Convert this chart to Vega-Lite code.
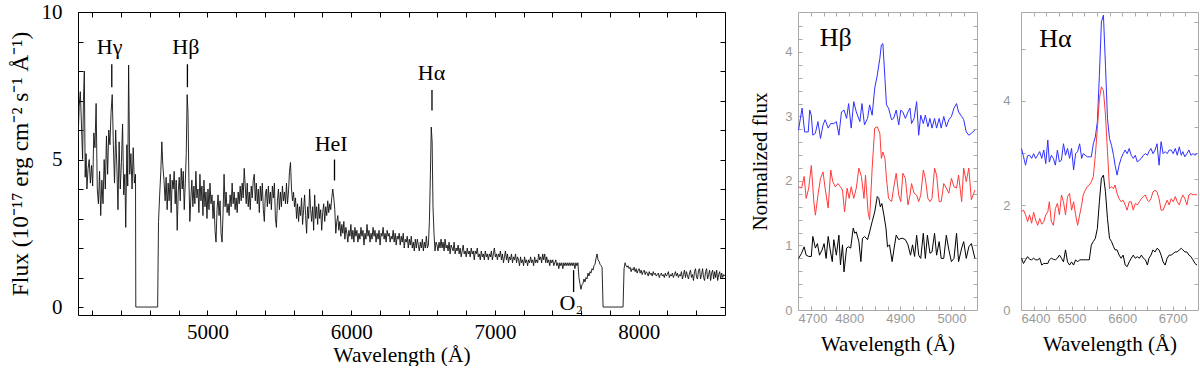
{
"$schema":"https://vega.github.io/schema/vega-lite/v6.json",
"autosize":{"type":"pad"},
"padding":{"left":7,"top":0,"right":4,"bottom":0},
"background":"white",
"config":{"font":"Liberation Serif","axis":{"grid":false,"domain":false,"labelOverlap":false,"labelFont":"Liberation Serif","titleFont":"Liberation Serif","titleFontWeight":"normal"}},
"datasets":{
"spec":[
{"w":4100,"f":5.6},{"w":4108,"f":6.8},{"w":4116,"f":7.3},{"w":4124,"f":6.2},{"w":4132,"f":5.0},{"w":4138,"f":7.0},{"w":4144,"f":8.0},{"w":4150,"f":4.4},{"w":4156,"f":5.2},{"w":4162,"f":4.0},{"w":4170,"f":4.7},{"w":4178,"f":5.0},{"w":4186,"f":4.2},{"w":4194,"f":4.8},{"w":4202,"f":4.1},{"w":4210,"f":5.9},{"w":4218,"f":5.4},{"w":4226,"f":6.9},{"w":4234,"f":4.0},{"w":4242,"f":3.5},{"w":4250,"f":4.6},{"w":4258,"f":3.1},{"w":4266,"f":4.3},{"w":4274,"f":3.5},{"w":4282,"f":5.0},{"w":4290,"f":4.0},{"w":4298,"f":5.8},{"w":4306,"f":4.5},{"w":4314,"f":6.0},{"w":4322,"f":5.5},{"w":4330,"f":6.6},{"w":4338,"f":7.2},{"w":4346,"f":5.5},{"w":4354,"f":4.2},{"w":4362,"f":6.0},{"w":4370,"f":4.8},{"w":4378,"f":3.3},{"w":4386,"f":5.6},{"w":4394,"f":4.0},{"w":4402,"f":4.9},{"w":4410,"f":6.2},{"w":4418,"f":3.8},{"w":4426,"f":4.5},{"w":4432,"f":2.7},{"w":4440,"f":5.5},{"w":4446,"f":4.1},{"w":4452,"f":8.2},{"w":4460,"f":4.5},{"w":4468,"f":5.2},{"w":4476,"f":4.0},{"w":4484,"f":5.4},{"w":4492,"f":4.2},{"w":4500,"f":4.5},{"w":4502,"f":0},{"w":4654,"f":0},
{"w":4660,"f":2.9},{"w":4668,"f":3.8},{"w":4676,"f":4.6},{"w":4683,"f":5.6},{"w":4690,"f":4.8},{"w":4698,"f":4.3},{"w":4706,"f":3.6},{"w":4713,"f":4.4},{"w":4720,"f":3.3},{"w":4727,"f":4.2},{"w":4734,"f":3.6},{"w":4741,"f":4.5},{"w":4748,"f":3.2},{"w":4755,"f":4.3},{"w":4762,"f":4.0},{"w":4769,"f":4.6},{"w":4776,"f":3.5},{"w":4783,"f":4.3},{"w":4790,"f":2.6},{"w":4797,"f":3.9},{"w":4804,"f":4.4},{"w":4811,"f":3.6},{"w":4818,"f":4.7},{"w":4825,"f":4.0},{"w":4832,"f":4.6},{"w":4839,"f":3.3},{"w":4846,"f":4.2},{"w":4853,"f":5.2},{"w":4859,"f":7.2},{"w":4865,"f":6.6},{"w":4871,"f":4.4},{"w":4878,"f":2.9},{"w":4885,"f":3.7},{"w":4892,"f":4.3},{"w":4899,"f":3.4},{"w":4906,"f":4.1},{"w":4913,"f":3.5},{"w":4920,"f":4.6},{"w":4927,"f":3.7},{"w":4934,"f":4.0},{"w":4941,"f":3.2},{"w":4948,"f":4.5},{"w":4955,"f":3.6},{"w":4962,"f":4.1},{"w":4969,"f":3.1},{"w":4976,"f":4.3},{"w":4983,"f":3.4},{"w":4990,"f":3.9},{"w":4997,"f":3.0},{"w":5004,"f":4.0},{"w":5011,"f":3.3},{"w":5018,"f":4.2},{"w":5025,"f":3.5},{"w":5032,"f":3.8},{"w":5039,"f":3.0},{"w":5046,"f":3.6},{"w":5053,"f":2.6},{"w":5060,"f":2.2},{"w":5067,"f":3.3},{"w":5074,"f":3.8},{"w":5081,"f":3.1},{"w":5088,"f":3.6},{"w":5095,"f":2.5},{"w":5102,"f":2.2},{"w":5109,"f":3.2},{"w":5116,"f":4.5},{"w":5123,"f":3.4},{"w":5130,"f":3.9},{"w":5137,"f":3.2},{"w":5144,"f":3.5},{"w":5151,"f":3.1},{"w":5158,"f":3.8},{"w":5165,"f":3.4},{"w":5172,"f":4.2},{"w":5179,"f":3.5},{"w":5186,"f":3.9},{"w":5193,"f":3.3},{"w":5200,"f":3.7},
{"w":5207,"f":3.2},{"w":5214,"f":3.9},{"w":5221,"f":3.5},{"w":5228,"f":4.1},{"w":5235,"f":3.6},{"w":5242,"f":4.2},{"w":5249,"f":3.7},{"w":5256,"f":4.7},{"w":5263,"f":4.1},{"w":5270,"f":3.5},{"w":5277,"f":4.2},{"w":5284,"f":3.4},{"w":5291,"f":3.9},{"w":5298,"f":3.3},{"w":5305,"f":4.1},{"w":5312,"f":3.7},{"w":5319,"f":4.3},{"w":5326,"f":4.5},{"w":5333,"f":3.6},{"w":5340,"f":4.2},{"w":5347,"f":3.5},{"w":5354,"f":4.0},{"w":5361,"f":3.2},{"w":5368,"f":4.1},{"w":5375,"f":3.6},{"w":5382,"f":4.2},{"w":5389,"f":3.3},{"w":5396,"f":2.9},{"w":5403,"f":3.8},{"w":5410,"f":4.0},{"w":5417,"f":3.4},{"w":5424,"f":4.1},{"w":5431,"f":3.5},{"w":5438,"f":3.9},{"w":5445,"f":3.3},{"w":5452,"f":4.1},{"w":5459,"f":3.7},{"w":5466,"f":4.2},{"w":5473,"f":3.0},{"w":5480,"f":2.7},{"w":5487,"f":3.6},{"w":5494,"f":4.0},{"w":5501,"f":3.3},{"w":5508,"f":3.9},{"w":5515,"f":3.4},{"w":5522,"f":4.1},{"w":5529,"f":3.6},{"w":5536,"f":3.9},{"w":5543,"f":3.5},{"w":5550,"f":4.2},{"w":5557,"f":3.5},{"w":5564,"f":3.9},{"w":5571,"f":4.6},{"w":5578,"f":4.9},{"w":5585,"f":4.0},{"w":5592,"f":3.6},{"w":5599,"f":3.9},{"w":5606,"f":3.4},{"w":5613,"f":3.7},{"w":5620,"f":3.0},{"w":5627,"f":3.5},{"w":5634,"f":2.9},{"w":5641,"f":3.4},{"w":5648,"f":3.1},{"w":5655,"f":3.7},{"w":5662,"f":2.8},{"w":5669,"f":3.3},{"w":5676,"f":3.8},{"w":5683,"f":3.1},{"w":5690,"f":2.5},{"w":5697,"f":3.4},{"w":5704,"f":3.0},{"w":5711,"f":4.0},{"w":5718,"f":3.3},{"w":5725,"f":2.9},{"w":5732,"f":3.4},{"w":5739,"f":2.6},{"w":5746,"f":3.8},{"w":5753,"f":3.0},{"w":5760,"f":3.4},{"w":5767,"f":2.8},{"w":5774,"f":3.5},{"w":5781,"f":3.0},{"w":5788,"f":3.3},{"w":5795,"f":2.6},{"w":5802,"f":3.2},{"w":5809,"f":3.5},{"w":5816,"f":2.9},{"w":5823,"f":3.4},{"w":5830,"f":3.1},{"w":5837,"f":3.6},{"w":5844,"f":3.2},{"w":5851,"f":3.5},{"w":5858,"f":3.3},{"w":5865,"f":3.7},{"w":5872,"f":4.0},{"w":5879,"f":3.7},{"w":5886,"f":3.3},{"w":5893,"f":2.5},{"w":5900,"f":2.9},
{"w":5907,"f":3.1},{"w":5914,"f":2.6},{"w":5921,"f":2.9},{"w":5928,"f":2.4},{"w":5935,"f":2.8},{"w":5942,"f":2.5},{"w":5949,"f":2.9},{"w":5956,"f":2.3},{"w":5963,"f":2.7},{"w":5970,"f":2.5},{"w":5977,"f":2.2},{"w":5984,"f":2.6},{"w":5991,"f":2.4},{"w":5998,"f":2.8},{"w":6005,"f":2.3},{"w":6012,"f":2.6},{"w":6019,"f":2.2},{"w":6026,"f":2.7},{"w":6033,"f":2.4},{"w":6040,"f":2.6},{"w":6047,"f":2.2},{"w":6054,"f":2.5},{"w":6061,"f":2.3},{"w":6068,"f":2.7},{"w":6075,"f":2.4},{"w":6082,"f":2.6},{"w":6089,"f":2.1},{"w":6096,"f":2.5},{"w":6103,"f":2.3},{"w":6110,"f":2.8},{"w":6117,"f":2.4},{"w":6124,"f":2.6},{"w":6131,"f":2.2},{"w":6138,"f":2.5},{"w":6145,"f":2.3},{"w":6152,"f":2.7},{"w":6159,"f":2.4},{"w":6166,"f":2.6},{"w":6173,"f":2.2},{"w":6180,"f":2.5},{"w":6187,"f":2.3},{"w":6194,"f":2.6},{"w":6201,"f":2.1},{"w":6208,"f":2.5},{"w":6215,"f":2.4},{"w":6222,"f":2.7},{"w":6229,"f":2.3},{"w":6236,"f":2.5},{"w":6243,"f":2.2},{"w":6250,"f":2.6},{"w":6257,"f":2.4},{"w":6264,"f":2.5},{"w":6271,"f":2.2},{"w":6278,"f":2.4},{"w":6285,"f":2.3},{"w":6292,"f":2.6},{"w":6299,"f":2.2},{"w":6306,"f":2.5},{"w":6313,"f":2.1},{"w":6320,"f":2.4},{"w":6327,"f":2.3},{"w":6334,"f":2.5},{"w":6341,"f":2.1},{"w":6348,"f":2.4},{"w":6355,"f":2.2},{"w":6362,"f":2.5},{"w":6369,"f":2.0},{"w":6376,"f":2.3},{"w":6383,"f":2.2},{"w":6390,"f":2.4},{"w":6397,"f":2.0},{"w":6404,"f":2.3},{"w":6411,"f":2.1},{"w":6418,"f":2.4},{"w":6425,"f":2.0},{"w":6432,"f":2.2},{"w":6439,"f":1.9},{"w":6446,"f":2.3},{"w":6453,"f":2.0},{"w":6460,"f":2.3},{"w":6467,"f":2.1},{"w":6474,"f":1.9},{"w":6481,"f":2.2},{"w":6488,"f":2.0},{"w":6495,"f":2.3},{"w":6502,"f":1.9},{"w":6509,"f":2.2},{"w":6516,"f":2.0},{"w":6523,"f":2.4},{"w":6530,"f":2.0},{"w":6537,"f":2.1},{"w":6544,"f":2.9},{"w":6551,"f":4.5},{"w":6557,"f":6.1},{"w":6563,"f":5.6},{"w":6569,"f":3.4},{"w":6576,"f":2.5},{"w":6583,"f":1.9},{"w":6590,"f":2.2},
{"w":6597,"f":2.1},{"w":6604,"f":1.9},{"w":6611,"f":2.2},{"w":6618,"f":2.0},{"w":6625,"f":2.3},{"w":6632,"f":2.0},{"w":6639,"f":2.2},{"w":6646,"f":1.9},{"w":6653,"f":2.3},{"w":6660,"f":2.0},{"w":6667,"f":2.1},{"w":6674,"f":1.9},{"w":6681,"f":2.2},{"w":6688,"f":1.8},{"w":6695,"f":2.1},{"w":6702,"f":2.0},{"w":6709,"f":1.9},{"w":6716,"f":2.2},{"w":6723,"f":1.8},{"w":6730,"f":2.0},{"w":6737,"f":1.9},{"w":6744,"f":2.1},{"w":6751,"f":1.8},{"w":6758,"f":2.0},{"w":6765,"f":1.7},{"w":6772,"f":1.9},{"w":6779,"f":2.1},{"w":6786,"f":1.8},{"w":6793,"f":1.9},{"w":6800,"f":1.7},{"w":6807,"f":2.0},{"w":6814,"f":1.8},{"w":6821,"f":1.9},{"w":6828,"f":1.7},{"w":6835,"f":2.0},{"w":6842,"f":1.8},{"w":6849,"f":1.9},{"w":6856,"f":1.6},{"w":6863,"f":1.9},{"w":6870,"f":1.8},{"w":6877,"f":2.0},{"w":6884,"f":1.7},{"w":6891,"f":1.8},{"w":6898,"f":1.6},{"w":6905,"f":1.9},{"w":6912,"f":1.7},{"w":6919,"f":1.8},{"w":6926,"f":1.6},{"w":6933,"f":1.9},{"w":6940,"f":1.7},{"w":6947,"f":1.8},{"w":6954,"f":1.6},{"w":6961,"f":1.8},{"w":6968,"f":1.7},{"w":6975,"f":1.9},{"w":6982,"f":1.6},{"w":6989,"f":1.8},{"w":6996,"f":2.0},{"w":7003,"f":1.7},{"w":7010,"f":1.8},{"w":7017,"f":1.6},{"w":7024,"f":1.8},{"w":7031,"f":1.7},{"w":7038,"f":1.9},{"w":7045,"f":1.6},{"w":7052,"f":1.8},{"w":7059,"f":1.5},{"w":7066,"f":1.7},{"w":7073,"f":1.9},{"w":7080,"f":1.6},{"w":7087,"f":1.8},{"w":7094,"f":1.5},{"w":7101,"f":1.7},{"w":7108,"f":1.6},{"w":7115,"f":1.8},{"w":7122,"f":1.5},{"w":7129,"f":1.7},{"w":7136,"f":1.6},{"w":7143,"f":1.8},{"w":7150,"f":1.5},{"w":7157,"f":1.7},{"w":7164,"f":1.6},{"w":7171,"f":1.4},{"w":7178,"f":1.7},{"w":7185,"f":1.5},{"w":7192,"f":1.6},{"w":7199,"f":1.4},{"w":7206,"f":1.7},{"w":7213,"f":1.5},{"w":7220,"f":1.6},{"w":7227,"f":1.4},{"w":7234,"f":1.6},{"w":7241,"f":1.5},{"w":7248,"f":1.7},{"w":7255,"f":1.5},{"w":7262,"f":1.6},{"w":7269,"f":1.4},{"w":7276,"f":1.7},{"w":7283,"f":1.5},{"w":7290,"f":1.6},{"w":7297,"f":1.5},{"w":7304,"f":1.8},{"w":7311,"f":1.6},{"w":7318,"f":1.7},{"w":7325,"f":1.5},{"w":7332,"f":1.8},{"w":7339,"f":1.6},{"w":7346,"f":1.8},{"w":7353,"f":1.5},{"w":7360,"f":1.7},{"w":7367,"f":1.5},{"w":7374,"f":1.6},{"w":7381,"f":1.4},{"w":7388,"f":1.6},{"w":7395,"f":1.5},{"w":7402,"f":1.6},{"w":7409,"f":1.4},{"w":7416,"f":1.5},{"w":7423,"f":1.6},{"w":7430,"f":1.4},{"w":7437,"f":1.5},{"w":7444,"f":1.3},{"w":7451,"f":1.5},{"w":7458,"f":1.4},{"w":7465,"f":1.5},{"w":7472,"f":1.3},{"w":7479,"f":1.5},{"w":7486,"f":1.4},
{"w":7493,"f":1.5},{"w":7500,"f":1.4},{"w":7507,"f":1.5},{"w":7514,"f":1.4},{"w":7521,"f":1.5},{"w":7528,"f":1.4},{"w":7535,"f":1.5},{"w":7542,"f":1.4},{"w":7549,"f":1.5},{"w":7556,"f":1.3},{"w":7563,"f":1.5},{"w":7570,"f":1.4},{"w":7577,"f":1.5},{"w":7584,"f":1.0},{"w":7591,"f":0.8},{"w":7598,"f":0.6},{"w":7605,"f":0.75},{"w":7612,"f":0.8},{"w":7619,"f":0.95},{"w":7626,"f":0.85},{"w":7633,"f":1.0},{"w":7640,"f":0.95},{"w":7647,"f":1.15},{"w":7654,"f":1.05},{"w":7661,"f":1.2},{"w":7668,"f":1.15},{"w":7675,"f":1.3},{"w":7682,"f":1.25},{"w":7689,"f":1.4},{"w":7696,"f":1.45},{"w":7703,"f":1.65},{"w":7710,"f":1.8},{"w":7717,"f":1.6},{"w":7724,"f":1.55},{"w":7731,"f":1.45},{"w":7738,"f":1.4},{"w":7745,"f":1.35},{"w":7752,"f":0},{"w":7891,"f":0},{"w":7898,"f":1.3},{"w":7905,"f":1.5},{"w":7912,"f":1.4},{"w":7919,"f":1.35},{"w":7926,"f":1.4},{"w":7933,"f":1.3},{"w":7940,"f":1.35},{"w":7947,"f":1.2},{"w":7954,"f":1.3},{"w":7961,"f":1.25},{"w":7968,"f":1.35},{"w":7975,"f":1.2},{"w":7982,"f":1.3},{"w":7989,"f":1.15},{"w":7996,"f":1.25},{"w":8003,"f":1.3},{"w":8010,"f":1.15},{"w":8017,"f":1.25},{"w":8024,"f":1.1},{"w":8031,"f":1.2},{"w":8038,"f":1.25},{"w":8045,"f":1.1},{"w":8052,"f":1.2},{"w":8059,"f":1.15},{"w":8066,"f":1.05},{"w":8073,"f":1.2},{"w":8080,"f":1.1},{"w":8087,"f":1.15},{"w":8094,"f":1.05},{"w":8101,"f":1.2},{"w":8108,"f":1.1},{"w":8115,"f":1.15},{"w":8122,"f":1.05},{"w":8129,"f":1.1},{"w":8136,"f":1.15},{"w":8143,"f":1.0},{"w":8150,"f":1.1},{"w":8157,"f":1.15},{"w":8164,"f":1.05},{"w":8171,"f":1.1},{"w":8178,"f":1.0},{"w":8185,"f":1.15},{"w":8192,"f":1.05},{"w":8199,"f":1.1},{"w":8206,"f":1.2},{"w":8213,"f":1.0},{"w":8220,"f":1.1},{"w":8227,"f":1.05},{"w":8234,"f":1.15},{"w":8241,"f":1.0},{"w":8248,"f":1.1},{"w":8255,"f":1.2},{"w":8262,"f":1.05},{"w":8269,"f":1.15},{"w":8276,"f":1.0},{"w":8283,"f":1.1},{"w":8290,"f":1.05},{"w":8297,"f":1.2},{"w":8304,"f":0.95},{"w":8311,"f":1.1},{"w":8318,"f":1.25},{"w":8325,"f":1.0},{"w":8332,"f":1.2},{"w":8339,"f":1.05},{"w":8346,"f":0.95},{"w":8353,"f":1.15},{"w":8360,"f":1.25},{"w":8367,"f":1.0},{"w":8374,"f":1.1},{"w":8381,"f":0.9},{"w":8388,"f":1.2},{"w":8395,"f":1.3},{"w":8402,"f":1.0},{"w":8409,"f":0.95},{"w":8416,"f":1.25},{"w":8423,"f":1.3},{"w":8430,"f":0.95},{"w":8437,"f":1.1},{"w":8444,"f":1.3},{"w":8451,"f":1.0},{"w":8458,"f":0.9},{"w":8465,"f":1.2},{"w":8472,"f":1.3},{"w":8479,"f":0.95},{"w":8486,"f":1.1},{"w":8493,"f":1.25},{"w":8500,"f":0.9},{"w":8507,"f":1.15},{"w":8514,"f":1.25},{"w":8521,"f":0.95},{"w":8528,"f":1.2},{"w":8535,"f":1.0},{"w":8542,"f":1.25},{"w":8549,"f":0.9},{"w":8556,"f":1.1},{"w":8563,"f":1.2},{"w":8570,"f":0.95},{"w":8577,"f":1.15},{"w":8584,"f":1.0},{"w":8591,"f":1.1},{"w":8598,"f":1.05}
],
"tags":[{"lab":"Hγ","w":4320,"f":8.8},{"lab":"Hβ","w":4850,"f":8.8},{"lab":"HeI","w":5861,"f":5.54},{"lab":"Hα","w":6559,"f":7.94},{"lab":"O₂","w":7531,"f":0.14}],
"ticks":[{"w":4335,"f":7.45,"f2":8.23},{"w":4861,"f":7.45,"f2":8.23},{"w":5884,"f":4.29,"f2":5.0},{"w":6562,"f":6.66,"f2":7.36},{"w":7547,"f":0.51,"f2":1.25}],
"hbtag":[{"lab":"Hβ","w":4774,"f":4.21}],
"hatag":[{"lab":"Hα","w":6468,"f":5.19}],
"hb":[
{"s":"b","w":4701,"f":2.79},{"s":"b","w":4708,"f":3.13},{"s":"b","w":4713,"f":2.76},{"s":"b","w":4720,"f":2.76},{"s":"b","w":4723,"f":3.10},{"s":"b","w":4726,"f":3.02},{"s":"b","w":4729,"f":2.71},{"s":"b","w":4734,"f":2.74},{"s":"b","w":4739,"f":2.92},{"s":"b","w":4744,"f":2.66},{"s":"b","w":4749,"f":2.87},{"s":"b","w":4753,"f":2.95},{"s":"b","w":4759,"f":2.82},{"s":"b","w":4764,"f":2.89},{"s":"b","w":4770,"f":2.89},{"s":"b","w":4775,"f":2.92},{"s":"b","w":4780,"f":2.71},{"s":"b","w":4785,"f":3.07},{"s":"b","w":4790,"f":3.10},{"s":"b","w":4795,"f":2.97},{"s":"b","w":4799,"f":3.20},{"s":"b","w":4804,"f":2.82},{"s":"b","w":4809,"f":3.23},{"s":"b","w":4814,"f":3.07},{"s":"b","w":4821,"f":2.92},{"s":"b","w":4825,"f":3.20},{"s":"b","w":4830,"f":2.87},{"s":"b","w":4836,"f":2.97},{"s":"b","w":4840,"f":3.18},{"s":"b","w":4845,"f":3.02},{"s":"b","w":4850,"f":3.44},{"s":"b","w":4855,"f":3.64},{"s":"b","w":4860,"f":3.90},{"s":"b","w":4863,"f":4.11},{"s":"b","w":4866,"f":4.13},{"s":"b","w":4870,"f":3.59},{"s":"b","w":4873,"f":3.18},{"s":"b","w":4877,"f":3.13},{"s":"b","w":4883,"f":2.95},{"s":"b","w":4887,"f":2.97},{"s":"b","w":4892,"f":3.10},{"s":"b","w":4897,"f":2.87},{"s":"b","w":4901,"f":3.10},{"s":"b","w":4905,"f":3.07},{"s":"b","w":4910,"f":2.97},{"s":"b","w":4915,"f":3.07},{"s":"b","w":4919,"f":3.13},{"s":"b","w":4922,"f":2.89},{"s":"b","w":4927,"f":2.97},{"s":"b","w":4932,"f":3.23},{"s":"b","w":4936,"f":2.71},{"s":"b","w":4940,"f":3.02},{"s":"b","w":4945,"f":2.89},{"s":"b","w":4949,"f":3.02},{"s":"b","w":4954,"f":2.84},{"s":"b","w":4958,"f":2.97},{"s":"b","w":4962,"f":2.82},{"s":"b","w":4967,"f":2.97},{"s":"b","w":4971,"f":2.82},{"s":"b","w":4976,"f":2.97},{"s":"b","w":4980,"f":2.82},{"s":"b","w":4985,"f":3.00},{"s":"b","w":4990,"f":2.84},{"s":"b","w":4995,"f":2.95},{"s":"b","w":5000,"f":3.00},{"s":"b","w":5005,"f":3.13},{"s":"b","w":5010,"f":3.20},{"s":"b","w":5014,"f":3.07},{"s":"b","w":5020,"f":3.00},{"s":"b","w":5024,"f":2.95},{"s":"b","w":5029,"f":2.76},{"s":"b","w":5034,"f":2.71},{"s":"b","w":5039,"f":2.74},{"s":"b","w":5046,"f":2.79},
{"s":"r","w":4701,"f":1.91},{"s":"r","w":4707,"f":1.89},{"s":"r","w":4712,"f":2.07},{"s":"r","w":4716,"f":1.73},{"s":"r","w":4721,"f":1.89},{"s":"r","w":4726,"f":2.24},{"s":"r","w":4731,"f":1.68},{"s":"r","w":4734,"f":1.47},{"s":"r","w":4739,"f":1.78},{"s":"r","w":4744,"f":2.04},{"s":"r","w":4749,"f":2.14},{"s":"r","w":4753,"f":1.89},{"s":"r","w":4759,"f":1.58},{"s":"r","w":4764,"f":2.17},{"s":"r","w":4768,"f":1.99},{"s":"r","w":4773,"f":1.91},{"s":"r","w":4778,"f":1.96},{"s":"r","w":4783,"f":1.91},{"s":"r","w":4787,"f":1.86},{"s":"r","w":4791,"f":1.52},{"s":"r","w":4796,"f":1.89},{"s":"r","w":4800,"f":1.73},{"s":"r","w":4804,"f":1.91},{"s":"r","w":4809,"f":1.73},{"s":"r","w":4814,"f":1.89},{"s":"r","w":4819,"f":2.20},{"s":"r","w":4824,"f":2.07},{"s":"r","w":4829,"f":1.73},{"s":"r","w":4832,"f":2.09},{"s":"r","w":4837,"f":1.52},{"s":"r","w":4840,"f":1.40},{"s":"r","w":4845,"f":2.20},{"s":"r","w":4850,"f":2.82},{"s":"r","w":4855,"f":2.84},{"s":"r","w":4860,"f":2.74},{"s":"r","w":4863,"f":2.35},{"s":"r","w":4866,"f":2.45},{"s":"r","w":4870,"f":2.35},{"s":"r","w":4873,"f":2.04},{"s":"r","w":4877,"f":1.73},{"s":"r","w":4883,"f":1.68},{"s":"r","w":4887,"f":1.89},{"s":"r","w":4892,"f":2.12},{"s":"r","w":4897,"f":1.78},{"s":"r","w":4901,"f":1.68},{"s":"r","w":4905,"f":2.12},{"s":"r","w":4910,"f":2.04},{"s":"r","w":4915,"f":1.63},{"s":"r","w":4919,"f":1.78},{"s":"r","w":4922,"f":1.96},{"s":"r","w":4927,"f":1.81},{"s":"r","w":4932,"f":1.78},{"s":"r","w":4936,"f":1.68},{"s":"r","w":4940,"f":1.78},{"s":"r","w":4945,"f":2.17},{"s":"r","w":4949,"f":2.04},{"s":"r","w":4954,"f":1.73},{"s":"r","w":4958,"f":1.68},{"s":"r","w":4962,"f":1.73},{"s":"r","w":4967,"f":2.20},{"s":"r","w":4971,"f":2.09},{"s":"r","w":4976,"f":1.68},{"s":"r","w":4980,"f":1.68},{"s":"r","w":4985,"f":1.96},{"s":"r","w":4990,"f":1.89},{"s":"r","w":4995,"f":1.81},{"s":"r","w":5000,"f":2.04},{"s":"r","w":5005,"f":1.91},{"s":"r","w":5010,"f":1.89},{"s":"r","w":5014,"f":2.09},{"s":"r","w":5020,"f":1.68},{"s":"r","w":5024,"f":2.20},{"s":"r","w":5029,"f":1.99},{"s":"r","w":5034,"f":2.20},{"s":"r","w":5039,"f":1.71},{"s":"r","w":5046,"f":1.86},
{"s":"k","w":4701,"f":0.80},{"s":"k","w":4707,"f":0.88},{"s":"k","w":4712,"f":0.98},{"s":"k","w":4716,"f":0.85},{"s":"k","w":4721,"f":0.83},{"s":"k","w":4726,"f":0.83},{"s":"k","w":4729,"f":1.14},{"s":"k","w":4734,"f":0.96},{"s":"k","w":4738,"f":1.03},{"s":"k","w":4742,"f":0.85},{"s":"k","w":4747,"f":0.93},{"s":"k","w":4751,"f":1.03},{"s":"k","w":4755,"f":0.80},{"s":"k","w":4759,"f":1.14},{"s":"k","w":4763,"f":0.93},{"s":"k","w":4767,"f":0.75},{"s":"k","w":4770,"f":1.09},{"s":"k","w":4775,"f":0.85},{"s":"k","w":4780,"f":1.16},{"s":"k","w":4783,"f":0.70},{"s":"k","w":4787,"f":1.01},{"s":"k","w":4790,"f":0.59},{"s":"k","w":4795,"f":0.96},{"s":"k","w":4799,"f":0.98},{"s":"k","w":4803,"f":0.96},{"s":"k","w":4808,"f":1.27},{"s":"k","w":4811,"f":1.19},{"s":"k","w":4814,"f":1.21},{"s":"k","w":4819,"f":1.06},{"s":"k","w":4823,"f":0.75},{"s":"k","w":4826,"f":1.11},{"s":"k","w":4830,"f":1.14},{"s":"k","w":4836,"f":1.09},{"s":"k","w":4840,"f":1.21},{"s":"k","w":4845,"f":1.37},{"s":"k","w":4850,"f":1.52},{"s":"k","w":4855,"f":1.76},{"s":"k","w":4858,"f":1.73},{"s":"k","w":4861,"f":1.60},{"s":"k","w":4864,"f":1.65},{"s":"k","w":4868,"f":1.47},{"s":"k","w":4872,"f":1.27},{"s":"k","w":4875,"f":0.98},{"s":"k","w":4879,"f":1.01},{"s":"k","w":4884,"f":0.75},{"s":"k","w":4888,"f":0.96},{"s":"k","w":4892,"f":1.16},{"s":"k","w":4897,"f":1.09},{"s":"k","w":4901,"f":1.11},{"s":"k","w":4905,"f":1.11},{"s":"k","w":4910,"f":1.09},{"s":"k","w":4915,"f":1.01},{"s":"k","w":4920,"f":0.85},{"s":"k","w":4924,"f":1.01},{"s":"k","w":4928,"f":0.83},{"s":"k","w":4932,"f":1.16},{"s":"k","w":4936,"f":0.85},{"s":"k","w":4940,"f":0.80},{"s":"k","w":4945,"f":1.19},{"s":"k","w":4949,"f":0.80},{"s":"k","w":4953,"f":1.16},{"s":"k","w":4958,"f":0.88},{"s":"k","w":4962,"f":0.90},{"s":"k","w":4967,"f":1.19},{"s":"k","w":4971,"f":0.85},{"s":"k","w":4976,"f":1.06},{"s":"k","w":4980,"f":0.80},{"s":"k","w":4985,"f":0.80},{"s":"k","w":4990,"f":1.16},{"s":"k","w":4995,"f":0.93},{"s":"k","w":5000,"f":0.75},{"s":"k","w":5005,"f":0.80},{"s":"k","w":5010,"f":1.19},{"s":"k","w":5014,"f":0.75},{"s":"k","w":5020,"f":0.96},{"s":"k","w":5024,"f":1.06},{"s":"k","w":5029,"f":0.80},{"s":"k","w":5034,"f":0.98},{"s":"k","w":5039,"f":1.03},{"s":"k","w":5046,"f":0.80}
],
"ha":[
{"s":"b","w":6401,"f":3.09},{"s":"b","w":6405,"f":2.93},{"s":"b","w":6409,"f":2.77},{"s":"b","w":6413,"f":2.95},{"s":"b","w":6417,"f":2.96},{"s":"b","w":6421,"f":2.90},{"s":"b","w":6425,"f":2.99},{"s":"b","w":6429,"f":2.90},{"s":"b","w":6433,"f":2.96},{"s":"b","w":6437,"f":3.03},{"s":"b","w":6441,"f":2.90},{"s":"b","w":6445,"f":3.06},{"s":"b","w":6449,"f":2.80},{"s":"b","w":6453,"f":3.25},{"s":"b","w":6456,"f":2.83},{"s":"b","w":6460,"f":2.96},{"s":"b","w":6464,"f":2.90},{"s":"b","w":6468,"f":2.77},{"s":"b","w":6472,"f":3.06},{"s":"b","w":6476,"f":2.83},{"s":"b","w":6480,"f":2.87},{"s":"b","w":6484,"f":3.18},{"s":"b","w":6488,"f":2.96},{"s":"b","w":6492,"f":3.09},{"s":"b","w":6496,"f":2.90},{"s":"b","w":6500,"f":3.09},{"s":"b","w":6504,"f":2.68},{"s":"b","w":6508,"f":2.99},{"s":"b","w":6512,"f":3.03},{"s":"b","w":6516,"f":3.18},{"s":"b","w":6520,"f":2.90},{"s":"b","w":6523,"f":2.99},{"s":"b","w":6527,"f":2.96},{"s":"b","w":6531,"f":2.93},{"s":"b","w":6535,"f":2.93},{"s":"b","w":6539,"f":2.93},{"s":"b","w":6543,"f":3.18},{"s":"b","w":6547,"f":3.31},{"s":"b","w":6551,"f":3.60},{"s":"b","w":6555,"f":4.49},{"s":"b","w":6559,"f":5.51},{"s":"b","w":6563,"f":5.64},{"s":"b","w":6567,"f":4.68},{"s":"b","w":6571,"f":3.66},{"s":"b","w":6575,"f":3.28},{"s":"b","w":6579,"f":3.15},{"s":"b","w":6583,"f":2.96},{"s":"b","w":6586,"f":2.77},{"s":"b","w":6590,"f":2.58},{"s":"b","w":6594,"f":2.77},{"s":"b","w":6598,"f":2.90},{"s":"b","w":6602,"f":2.99},{"s":"b","w":6606,"f":3.06},{"s":"b","w":6610,"f":2.99},{"s":"b","w":6614,"f":3.09},{"s":"b","w":6618,"f":2.96},{"s":"b","w":6622,"f":2.90},{"s":"b","w":6626,"f":2.96},{"s":"b","w":6630,"f":2.83},{"s":"b","w":6634,"f":2.87},{"s":"b","w":6638,"f":2.90},{"s":"b","w":6642,"f":2.96},{"s":"b","w":6646,"f":2.99},{"s":"b","w":6650,"f":2.96},{"s":"b","w":6653,"f":3.03},{"s":"b","w":6657,"f":3.09},{"s":"b","w":6661,"f":2.99},{"s":"b","w":6665,"f":3.06},{"s":"b","w":6669,"f":3.18},{"s":"b","w":6673,"f":2.77},{"s":"b","w":6677,"f":3.22},{"s":"b","w":6681,"f":2.99},{"s":"b","w":6685,"f":3.03},{"s":"b","w":6689,"f":2.99},{"s":"b","w":6693,"f":3.06},{"s":"b","w":6697,"f":3.06},{"s":"b","w":6701,"f":2.99},{"s":"b","w":6705,"f":3.09},{"s":"b","w":6709,"f":2.96},{"s":"b","w":6713,"f":3.12},{"s":"b","w":6717,"f":2.96},{"s":"b","w":6720,"f":3.03},{"s":"b","w":6724,"f":2.93},{"s":"b","w":6728,"f":2.99},{"s":"b","w":6732,"f":3.06},{"s":"b","w":6736,"f":2.96},{"s":"b","w":6740,"f":2.99},{"s":"b","w":6744,"f":2.96},{"s":"b","w":6748,"f":2.99},
{"s":"r","w":6401,"f":1.88},{"s":"r","w":6405,"f":1.91},{"s":"r","w":6409,"f":1.82},{"s":"r","w":6413,"f":1.69},{"s":"r","w":6417,"f":1.82},{"s":"r","w":6421,"f":1.66},{"s":"r","w":6425,"f":1.87},{"s":"r","w":6429,"f":1.72},{"s":"r","w":6433,"f":1.62},{"s":"r","w":6437,"f":1.75},{"s":"r","w":6441,"f":1.64},{"s":"r","w":6445,"f":1.69},{"s":"r","w":6449,"f":1.82},{"s":"r","w":6453,"f":1.88},{"s":"r","w":6456,"f":2.07},{"s":"r","w":6460,"f":1.69},{"s":"r","w":6464,"f":1.62},{"s":"r","w":6468,"f":1.94},{"s":"r","w":6472,"f":2.04},{"s":"r","w":6476,"f":1.82},{"s":"r","w":6480,"f":2.20},{"s":"r","w":6484,"f":2.07},{"s":"r","w":6488,"f":1.82},{"s":"r","w":6492,"f":2.17},{"s":"r","w":6496,"f":2.23},{"s":"r","w":6500,"f":1.91},{"s":"r","w":6504,"f":2.07},{"s":"r","w":6508,"f":1.82},{"s":"r","w":6512,"f":1.62},{"s":"r","w":6516,"f":1.82},{"s":"r","w":6520,"f":2.01},{"s":"r","w":6523,"f":2.20},{"s":"r","w":6527,"f":2.29},{"s":"r","w":6531,"f":2.36},{"s":"r","w":6535,"f":2.39},{"s":"r","w":6539,"f":2.45},{"s":"r","w":6543,"f":2.55},{"s":"r","w":6547,"f":2.96},{"s":"r","w":6551,"f":3.47},{"s":"r","w":6555,"f":4.04},{"s":"r","w":6559,"f":4.27},{"s":"r","w":6563,"f":4.20},{"s":"r","w":6567,"f":3.73},{"s":"r","w":6571,"f":3.03},{"s":"r","w":6575,"f":2.32},{"s":"r","w":6579,"f":2.36},{"s":"r","w":6583,"f":2.32},{"s":"r","w":6586,"f":2.39},{"s":"r","w":6590,"f":2.23},{"s":"r","w":6594,"f":2.13},{"s":"r","w":6598,"f":2.07},{"s":"r","w":6602,"f":2.10},{"s":"r","w":6606,"f":2.01},{"s":"r","w":6610,"f":1.91},{"s":"r","w":6614,"f":2.07},{"s":"r","w":6618,"f":2.07},{"s":"r","w":6622,"f":1.91},{"s":"r","w":6626,"f":2.04},{"s":"r","w":6630,"f":2.01},{"s":"r","w":6634,"f":2.07},{"s":"r","w":6638,"f":2.13},{"s":"r","w":6642,"f":2.17},{"s":"r","w":6646,"f":2.20},{"s":"r","w":6650,"f":2.10},{"s":"r","w":6653,"f":2.07},{"s":"r","w":6657,"f":2.13},{"s":"r","w":6661,"f":2.26},{"s":"r","w":6665,"f":2.29},{"s":"r","w":6669,"f":2.26},{"s":"r","w":6673,"f":2.13},{"s":"r","w":6677,"f":1.91},{"s":"r","w":6681,"f":1.91},{"s":"r","w":6685,"f":2.01},{"s":"r","w":6689,"f":2.10},{"s":"r","w":6693,"f":2.01},{"s":"r","w":6697,"f":2.13},{"s":"r","w":6701,"f":2.07},{"s":"r","w":6705,"f":2.17},{"s":"r","w":6709,"f":2.07},{"s":"r","w":6713,"f":2.01},{"s":"r","w":6717,"f":2.13},{"s":"r","w":6720,"f":2.20},{"s":"r","w":6724,"f":2.13},{"s":"r","w":6728,"f":2.01},{"s":"r","w":6732,"f":2.20},{"s":"r","w":6736,"f":2.23},{"s":"r","w":6740,"f":2.20},{"s":"r","w":6744,"f":2.21},{"s":"r","w":6748,"f":2.20},
{"s":"k","w":6401,"f":0.99},{"s":"k","w":6405,"f":0.89},{"s":"k","w":6409,"f":0.96},{"s":"k","w":6413,"f":1.02},{"s":"k","w":6417,"f":0.97},{"s":"k","w":6421,"f":0.96},{"s":"k","w":6425,"f":0.99},{"s":"k","w":6429,"f":0.96},{"s":"k","w":6433,"f":0.96},{"s":"k","w":6437,"f":0.99},{"s":"k","w":6441,"f":0.86},{"s":"k","w":6445,"f":0.89},{"s":"k","w":6449,"f":0.89},{"s":"k","w":6453,"f":0.89},{"s":"k","w":6456,"f":0.96},{"s":"k","w":6460,"f":0.99},{"s":"k","w":6464,"f":0.97},{"s":"k","w":6468,"f":0.96},{"s":"k","w":6472,"f":0.99},{"s":"k","w":6476,"f":1.05},{"s":"k","w":6480,"f":0.99},{"s":"k","w":6484,"f":0.92},{"s":"k","w":6488,"f":1.15},{"s":"k","w":6492,"f":0.92},{"s":"k","w":6496,"f":0.86},{"s":"k","w":6500,"f":0.92},{"s":"k","w":6504,"f":0.86},{"s":"k","w":6508,"f":0.96},{"s":"k","w":6512,"f":0.92},{"s":"k","w":6516,"f":0.96},{"s":"k","w":6520,"f":0.96},{"s":"k","w":6523,"f":0.96},{"s":"k","w":6527,"f":0.96},{"s":"k","w":6531,"f":0.96},{"s":"k","w":6535,"f":0.96},{"s":"k","w":6539,"f":1.24},{"s":"k","w":6543,"f":1.31},{"s":"k","w":6547,"f":1.37},{"s":"k","w":6551,"f":1.56},{"s":"k","w":6555,"f":2.07},{"s":"k","w":6559,"f":2.52},{"s":"k","w":6563,"f":2.58},{"s":"k","w":6567,"f":2.26},{"s":"k","w":6571,"f":1.75},{"s":"k","w":6575,"f":1.37},{"s":"k","w":6579,"f":1.31},{"s":"k","w":6583,"f":1.21},{"s":"k","w":6586,"f":1.15},{"s":"k","w":6590,"f":1.15},{"s":"k","w":6594,"f":1.05},{"s":"k","w":6598,"f":0.99},{"s":"k","w":6602,"f":1.05},{"s":"k","w":6606,"f":0.86},{"s":"k","w":6610,"f":0.83},{"s":"k","w":6614,"f":0.92},{"s":"k","w":6618,"f":0.99},{"s":"k","w":6622,"f":1.05},{"s":"k","w":6626,"f":0.99},{"s":"k","w":6630,"f":1.02},{"s":"k","w":6634,"f":0.99},{"s":"k","w":6638,"f":1.05},{"s":"k","w":6642,"f":0.99},{"s":"k","w":6646,"f":0.96},{"s":"k","w":6650,"f":0.86},{"s":"k","w":6653,"f":0.99},{"s":"k","w":6657,"f":1.05},{"s":"k","w":6661,"f":1.15},{"s":"k","w":6665,"f":1.11},{"s":"k","w":6669,"f":1.18},{"s":"k","w":6673,"f":1.15},{"s":"k","w":6677,"f":1.05},{"s":"k","w":6681,"f":0.92},{"s":"k","w":6685,"f":0.86},{"s":"k","w":6689,"f":0.99},{"s":"k","w":6693,"f":1.05},{"s":"k","w":6697,"f":1.05},{"s":"k","w":6701,"f":1.08},{"s":"k","w":6705,"f":1.11},{"s":"k","w":6709,"f":1.11},{"s":"k","w":6713,"f":1.15},{"s":"k","w":6717,"f":1.18},{"s":"k","w":6720,"f":1.15},{"s":"k","w":6724,"f":1.11},{"s":"k","w":6728,"f":1.11},{"s":"k","w":6732,"f":1.05},{"s":"k","w":6736,"f":1.02},{"s":"k","w":6740,"f":0.96},{"s":"k","w":6744,"f":0.89},{"s":"k","w":6748,"f":0.86}
]
},
"spacing":73,
"bounds":"flush",
"hconcat":[
{
"width":647,"height":303,
"view":{"stroke":"#000","strokeWidth":1},
"layer":[
{"data":{"name":"spec"},"mark":{"type":"line","color":"#111","strokeWidth":0.9,"clip":true},
"encoding":{
"x":{"field":"w","type":"quantitative","scale":{"domain":[4100,8600],"nice":false,"zero":false},
"axis":{"orient":"bottom","values":[4200,4400,4600,4800,5000,5200,5400,5600,5800,6000,6200,6400,6600,6800,7000,7200,7400,7600,7800,8000,8200,8400],"labelExpr":"datum.value % 1000 == 0 ? datum.label : ''","labelOverlap":false,"format":"d","tickSize":-5,"tickColor":"#000","labelPadding":11,"labelFontSize":21,"labelColor":"#000","title":"Wavelength (Å)","titleFontSize":21.5,"titleColor":"#000","titlePadding":2}},
"y":{"field":"f","type":"quantitative","scale":{"domain":[-0.27,10],"nice":false,"zero":false},
"axis":{"orient":"left","values":[0,1,2,3,4,5,6,7,8,9,10],"labelExpr":"datum.value % 5 == 0 ? datum.label : ''","labelOverlap":false,"format":"d","tickSize":-5,"tickColor":"#000","labelPadding":21,"labelFontSize":21,"labelColor":"#000","title":"Flux (10⁻¹⁷ erg cm⁻² s⁻¹ Å⁻¹)","titleFontSize":23.5,"titleColor":"#000","titlePadding":9}}
}},
{"data":{"name":"tags"},"mark":{"type":"text","fontSize":22,"font":"Liberation Serif","color":"#000","baseline":"middle","align":"center"},
"encoding":{
"x":{"field":"w","type":"quantitative","axis":{"orient":"top","values":[4200,4400,4600,4800,5000,5200,5400,5600,5800,6000,6200,6400,6600,6800,7000,7200,7400,7600,7800,8000,8200,8400],"labels":false,"tickSize":-5,"tickColor":"#000","title":null}},
"y":{"field":"f","type":"quantitative","axis":{"orient":"right","values":[0,1,2,3,4,5,6,7,8,9,10],"labels":false,"tickSize":-5,"tickColor":"#000","title":null}},
"text":{"field":"lab"}}},
{"data":{"name":"ticks"},"mark":{"type":"rule","color":"#000","strokeWidth":1.3},
"encoding":{"x":{"field":"w","type":"quantitative","axis":null},"y":{"field":"f","type":"quantitative","axis":null},"y2":{"field":"f2"}}}
],
"resolve":{"axis":{"x":"independent","y":"independent"}}
},
{
"spacing":44,
"bounds":"flush",
"hconcat":[
{
"width":179,"height":298,
"view":{"stroke":"#aaa","strokeWidth":1},
"layer":[
{"data":{"name":"hbtag"},"mark":{"type":"point","opacity":0},
"encoding":{
"x":{"field":"w","type":"quantitative","scale":{"domain":[4700,5050],"nice":false,"zero":false},"axis":{"orient":"bottom","values":[4725,4750,4775,4825,4850,4875,4925,4950,4975,5025],"labels":false,"tickSize":-4,"tickColor":"#aaa","title":null}},
"y":{"field":"f","type":"quantitative","scale":{"domain":[0,4.62],"nice":false,"zero":false},"axis":{"orient":"left","values":[0.2,0.4,0.6,0.8,1.2,1.4,1.6,1.8,2.2,2.4,2.6,2.8,3.2,3.4,3.6,3.8,4.2,4.4],"labels":false,"tickSize":-4,"tickColor":"#aaa","title":null}}
}},
{"data":{"name":"hb"},"mark":{"type":"line","strokeWidth":1,"clip":true},
"encoding":{
"x":{"field":"w","type":"quantitative",
"axis":{"orient":"bottom","values":[4700,4800,4900,5000],"labelOverlap":false,"format":"d","tickSize":-4,"tickColor":"#aaa","labelPadding":6,"labelFont":"Liberation Sans","labelFontSize":13,"labelColor":"#999","title":"Wavelength (Å)","titleFontSize":21,"titleColor":"#000","titlePadding":8}},
"y":{"field":"f","type":"quantitative",
"axis":{"orient":"left","values":[0,1,2,3,4],"labelOverlap":false,"format":"d","tickSize":-4,"tickColor":"#aaa","labelPadding":10,"labelFont":"Liberation Sans","labelFontSize":13,"labelColor":"#999","title":"Normalized flux","titleFontSize":21,"titleColor":"#000","titlePadding":14}},
"color":{"field":"s","type":"nominal","scale":{"domain":["b","r","k"],"range":["#3030ff","#ff3b3b","#000000"]},"legend":null}
}},
{"data":{"name":"hbtag"},"mark":{"type":"text","fontSize":26,"font":"Liberation Serif","color":"#000","baseline":"middle","align":"center"},
"encoding":{
"x":{"field":"w","type":"quantitative","axis":{"orient":"top","values":[4725,4750,4775,4800,4825,4850,4875,4900,4925,4950,4975,5000,5025],"labels":false,"tickSize":-4,"tickColor":"#aaa","title":null}},
"y":{"field":"f","type":"quantitative","axis":{"orient":"right","values":[0.2,0.4,0.6,0.8,1,1.2,1.4,1.6,1.8,2,2.2,2.4,2.6,2.8,3,3.2,3.4,3.6,3.8,4,4.2,4.4],"labels":false,"tickSize":-4,"tickColor":"#aaa","title":null}},
"text":{"field":"lab"}}}
],
"resolve":{"axis":{"x":"independent","y":"independent"}}
},
{
"width":177,"height":298,
"view":{"stroke":"#aaa","strokeWidth":1},
"layer":[
{"data":{"name":"ha"},"mark":{"type":"line","strokeWidth":1,"clip":true},
"encoding":{
"x":{"field":"w","type":"quantitative","scale":{"domain":[6400,6750],"nice":false,"zero":false},
"axis":{"orient":"bottom","values":[6400,6425,6450,6475,6500,6525,6550,6575,6600,6625,6650,6675,6700,6725],"labelExpr":"datum.value % 100 == 0 ? datum.label : ''","labelOverlap":false,"format":"d","tickSize":-4,"tickColor":"#aaa","labelPadding":6,"labelFont":"Liberation Sans","labelFontSize":13,"labelColor":"#999","title":"Wavelength (Å)","titleFontSize":21,"titleColor":"#000","titlePadding":8}},
"y":{"field":"f","type":"quantitative","scale":{"domain":[0,5.7],"nice":false,"zero":false},
"axis":{"orient":"left","values":[0,0.5,1,1.5,2,2.5,3,3.5,4,4.5,5,5.5],"labelExpr":"datum.value % 2 == 0 ? datum.label : ''","labelOverlap":false,"format":"d","tickSize":-4,"tickColor":"#aaa","labelPadding":15,"labelFont":"Liberation Sans","labelFontSize":13,"labelColor":"#999","title":null}},
"color":{"field":"s","type":"nominal","scale":{"domain":["b","r","k"],"range":["#3030ff","#ff3b3b","#000000"]},"legend":null}
}},
{"data":{"name":"hatag"},"mark":{"type":"text","fontSize":26,"font":"Liberation Serif","color":"#000","baseline":"middle","align":"center"},
"encoding":{
"x":{"field":"w","type":"quantitative","axis":{"orient":"top","values":[6425,6450,6475,6500,6525,6550,6575,6600,6625,6650,6675,6700,6725],"labels":false,"tickSize":-4,"tickColor":"#aaa","title":null}},
"y":{"field":"f","type":"quantitative","axis":{"orient":"right","values":[0.5,1,1.5,2,2.5,3,3.5,4,4.5,5,5.5],"labels":false,"tickSize":-4,"tickColor":"#aaa","title":null}},
"text":{"field":"lab"}}}
],
"resolve":{"axis":{"x":"independent","y":"independent"}}
}
]
}
]
}
